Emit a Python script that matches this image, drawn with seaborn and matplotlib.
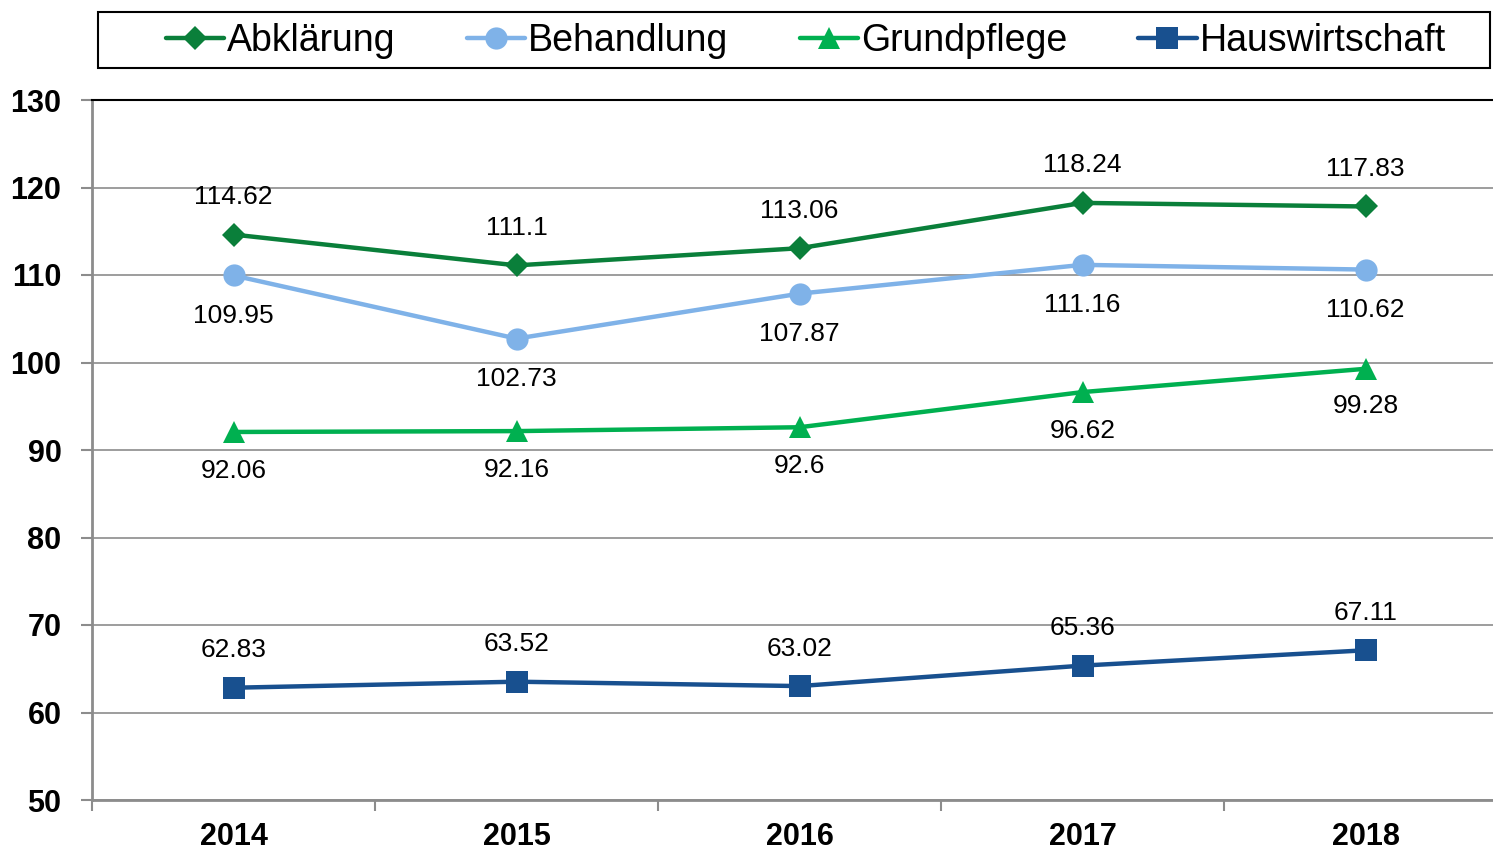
import pandas as pd
import seaborn as sns
import numpy as np
import matplotlib.pyplot as plt
from matplotlib.patches import Rectangle

years = ["2014", "2015", "2016", "2017", "2018"]
series = ["Abklärung", "Behandlung", "Grundpflege", "Hauswirtschaft"]
abklaerung = [114.62, 111.1, 113.06, 118.24, 117.83]
behandlung = [109.95, 102.73, 107.87, 111.16, 110.62]
grundpflege = [92.06, 92.16, 92.6, 96.62, 99.28]
hauswirtschaft = [62.83, 63.52, 63.02, 65.36, 67.11]

colors = ["#0A7F3A", "#7FB2E8", "#00B050", "#18508F"]
markers = ["D", "o", "^", "s"]
marker_sizes = [12, 16, 16, 16]
label_offset = [27, -29, -28, 27]  # points, + above / - below

df = pd.DataFrame({
    "pos": list(range(len(years))) * 4,
    "value": abklaerung + behandlung + grundpflege + hauswirtschaft,
    "series": [s for s in series for _ in years],
})

sns.set_theme(style="white")
plt.rcParams["font.family"] = ["Liberation Sans", "DejaVu Sans"]
plt.rcParams["text.color"] = "black"

fig = plt.figure(figsize=(14.93, 8.52), dpi=100)
ax = fig.add_axes([92 / 1493, 1 - 800 / 852, 1415 / 1493, 700 / 852])

sns.lineplot(data=df, x="pos", y="value", hue="series", style="series",
             palette=colors, markers=markers, dashes=False, linewidth=3.2,
             markersize=14, markeredgewidth=0, ax=ax, legend=False)

# adjust marker sizes per series
for line, ms in zip(ax.get_lines(), marker_sizes):
    line.set_markersize(ms)

# data labels
for k, name in enumerate(series):
    vals = df[df["series"] == name]["value"].values
    for i, v in enumerate(vals):
        off = label_offset[k]
        if name == "Grundpflege" and i == 4:
            off = -27
        ax.annotate(f"{v:g}", (i, v), xytext=(0, off), textcoords="offset points",
                    ha="center", va="center", fontsize=19, color="black")

ax.set_xlim(-0.5, 4.5)
ax.set_ylim(50, 130)
ax.set_yticks(range(50, 131, 10))
ax.set_xticks(range(5))
ax.set_xticklabels(years)
ax.set_xticks(np.arange(-0.5, 4.6, 1), minor=True)
ax.tick_params(axis="x", which="major", bottom=True, length=0, pad=16, labelsize=22, labelcolor="black")
ax.tick_params(axis="x", which="minor", bottom=True, length=8, width=1.5, color="#8c8c8c", direction="out")
ax.tick_params(axis="y", left=True, length=8, width=1.5, color="#8c8c8c", direction="out", pad=14,
               labelsize=22, labelcolor="black")
for lab in ax.get_xticklabels() + ax.get_yticklabels():
    lab.set_fontweight("bold")
ax.set_xlabel("")
ax.set_ylabel("")
ax.grid(axis="y", color="#8c8c8c", linewidth=1.2)
ax.set_axisbelow(True)

ax.spines["top"].set_color("black")
ax.spines["top"].set_linewidth(1.5)
ax.spines["left"].set_color("#8c8c8c")
ax.spines["left"].set_linewidth(2)
ax.spines["bottom"].set_color("#8c8c8c")
ax.spines["bottom"].set_linewidth(2)
ax.spines["right"].set_visible(False)

# legend frame drawn separately, wider than the entries
fig.patches.append(Rectangle((98 / 1493, 1 - 68 / 852), 1392 / 1493, 56 / 852,
                             transform=fig.transFigure, fill=False,
                             edgecolor="black", linewidth=1.5))
handles = [plt.Line2D([], [], color=c, marker=m, markersize=ms, linewidth=3.2, markeredgewidth=0)
           for c, m, ms in zip(colors, markers, marker_sizes)]
leg = fig.legend(handles, series, loc="center", ncol=4,
                 bbox_to_anchor=(806 / 1493, 1 - 41 / 852),
                 fontsize=27, frameon=False, handlelength=1.55, labelcolor="black",
                 handletextpad=0.08, columnspacing=1.9, borderaxespad=0, borderpad=0)

fig.savefig("out.png", dpi=100)
